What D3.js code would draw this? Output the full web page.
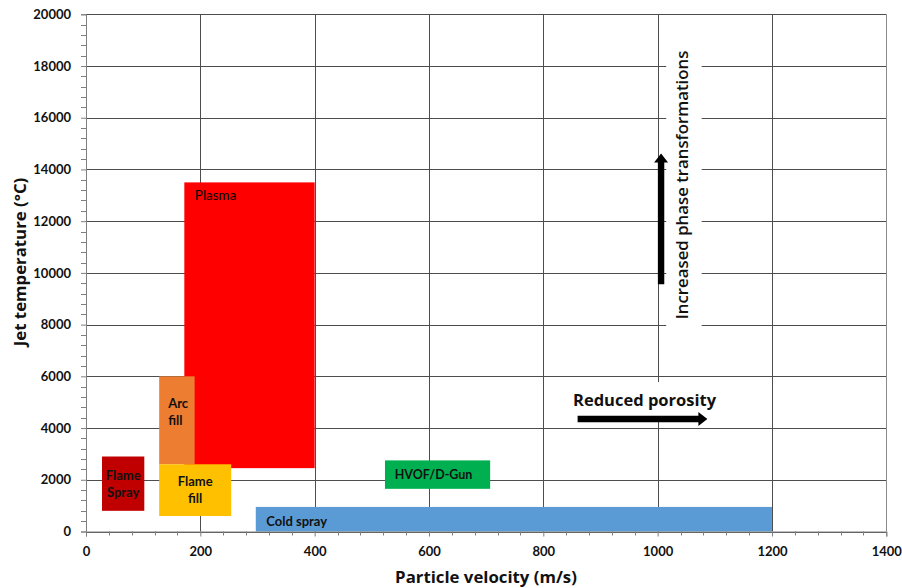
<!DOCTYPE html>
<html>
<head>
<meta charset="utf-8">
<script src="https://cdn.jsdelivr.net/npm/d3@7"></script>
<style>
  html, body { margin: 0; padding: 0; background: #fff; }
  svg { display: block; font-family: Lato, "Open Sans", sans-serif; }
</style>
</head>
<body>
<svg id="chart" width="902" height="588"></svg>
<script>
// ---- data ----
const processes = ["Plasma", "Arc fill", "Flame fill", "Flame Spray", "HVOF/D-Gun", "Cold spray"];
const labelLines = [["Plasma"], ["Arc", "fill"], ["Flame", "fill"], ["Flame", "Spray"], ["HVOF/D-Gun"], ["Cold spray"]];
const velocityMin = [172, 128, 128, 28, 523, 297];
const velocityMax = [400, 190, 254, 102, 707, 1200];
const tempMin = [2450, 2600, 600, 800, 1650, 0];
const tempMax = [13500, 6000, 2600, 2900, 2750, 950];
const xTicks = [0, 200, 400, 600, 800, 1000, 1200, 1400];
const yTicks = [0, 2000, 4000, 6000, 8000, 10000, 12000, 14000, 16000, 18000, 20000];
const xTitle = "Particle velocity (m/s)";
const yTitle = "Jet temperature (°C)";
const porosityText = "Reduced porosity";
const phaseText = "Increased phase transformations";

// ---- styles / layout ----
const colors = ["#FF0000", "#ED7D31", "#FFC000", "#C00000", "#00B050", "#5B9BD5"];
const labelMode = ["topleft", "topleft2", "center", "center", "center", "topleft"];
const titleFont = "'Open Sans', Lato, sans-serif";

const svg = d3.select("#chart");
const x = d3.scaleLinear().domain([0, 1400]).range([86, 886.3]);
const y = d3.scaleLinear().domain([0, 20000]).range([531.5, 14.3]);

// gridlines
const grid = svg.append("g");
grid.selectAll("line.h").data(yTicks).join("line")
  .attr("x1", x(0)).attr("x2", x(1400))
  .attr("y1", d => Math.round(y(d)) + 0.5).attr("y2", d => Math.round(y(d)) + 0.5)
  .attr("stroke", "#4d4d4d").attr("stroke-width", 1);
grid.selectAll("line.v").data(xTicks).join("line")
  .attr("y1", y(0)).attr("y2", y(20000))
  .attr("x1", d => Math.round(x(d)) + 0.5).attr("x2", d => Math.round(x(d)) + 0.5)
  .attr("stroke", d => d === 1400 ? "#8a8a8a" : "#4d4d4d").attr("stroke-width", 1);

// annotation backgrounds (white boxes)
svg.append("rect")
  .attr("x", x(835)).attr("y", y(5780))
  .attr("width", x(1172) - x(835)).attr("height", y(4430) - y(5780))
  .attr("fill", "#fff");
svg.append("rect")
  .attr("x", x(1015)).attr("y", y(19620))
  .attr("width", x(1077) - x(1015)).attr("height", y(7830) - y(19620))
  .attr("fill", "#fff");

// rectangles
const idx = d3.range(processes.length);
svg.append("g").selectAll("rect").data(idx).join("rect")
  .attr("x", i => x(velocityMin[i]))
  .attr("y", i => y(tempMax[i]))
  .attr("width", i => x(velocityMax[i]) - x(velocityMin[i]))
  .attr("height", i => y(tempMin[i]) - y(tempMax[i]))
  .attr("fill", i => colors[i]);

// labels
const lg = svg.append("g").attr("fill", "#111");
idx.forEach(i => {
  const x0 = x(velocityMin[i]), x1 = x(velocityMax[i]);
  const y0 = y(tempMax[i]), y1 = y(tempMin[i]);
  const lines = labelLines[i];
  const lh = 17;
  let tx, ty, anchor;
  const mode = labelMode[i];
  if (mode === "topleft") {
    tx = x0 + 10.5; ty = y0 + (i === 0 ? 17.5 : 19); anchor = "start";
  } else if (mode === "topleft2") {
    tx = x0 + 9; ty = y0 + 32; anchor = "start";
  } else {
    tx = (x0 + x1) / 2 + (i === 4 ? -4 : 0);
    ty = (y0 + y1) / 2 - (lines.length - 1) * lh / 2 + 4.5;
    anchor = "middle";
  }
  lines.forEach((t, k) => {
    lg.append("text").attr("x", tx).attr("y", ty + k * lh)
      .attr("text-anchor", anchor)
      .attr("font-size", i === 0 ? 13.5 : (i === 4 ? 12.5 : 13))
      .attr("font-weight", i === 0 ? "normal" : "bold")
      .attr("fill", i === 0 ? "#000" : "#111")
      .text(t);
  });
});

// axes
const axisColor = "#7f7f7f";
const yAxis = svg.append("g").attr("transform", `translate(${x(0)},0)`)
  .call(d3.axisLeft(y).tickValues(yTicks).tickSize(5).tickPadding(10).tickFormat(d3.format("d")));
const xAxis = svg.append("g").attr("transform", `translate(0,${y(0)})`)
  .call(d3.axisBottom(x).tickValues(xTicks).tickSize(5).tickPadding(10).tickFormat(d3.format("d")));
[yAxis, xAxis].forEach(g => {
  g.select(".domain").attr("stroke", axisColor);
  g.selectAll(".tick line").attr("stroke", axisColor);
  g.selectAll("text").attr("font-size", 13).attr("fill", "#111").attr("font-family", "Lato, sans-serif").attr("font-weight", "bold");
});
// minor ticks
const yMinor = d3.range(0, 20001, 400).filter(v => v % 2000 !== 0);
const xMinor = d3.range(0, 1401, 40).filter(v => v % 200 !== 0);
svg.append("g").selectAll("line").data(yMinor).join("line")
  .attr("x1", x(0) - 5).attr("x2", x(0))
  .attr("y1", d => Math.round(y(d)) + 0.5).attr("y2", d => Math.round(y(d)) + 0.5)
  .attr("stroke", axisColor);
svg.append("g").selectAll("line").data(xMinor).join("line")
  .attr("y1", y(0)).attr("y2", y(0) + 4)
  .attr("x1", d => Math.round(x(d)) + 0.5).attr("x2", d => Math.round(x(d)) + 0.5)
  .attr("stroke", axisColor);

// axis titles
svg.append("text").attr("x", 486).attr("y", 583).attr("text-anchor", "middle")
  .attr("font-family", titleFont)
  .attr("font-size", 16.8).attr("font-weight", "bold").attr("fill", "#111").text(xTitle);
svg.append("text").attr("transform", "translate(26,262) rotate(-90)").attr("text-anchor", "middle")
  .attr("font-family", titleFont)
  .attr("font-size", 16.8).attr("font-weight", "bold").attr("fill", "#111").text(yTitle);

// annotations
svg.append("text").attr("x", x(852)).attr("y", y(4860))
  .attr("font-family", titleFont)
  .attr("font-size", 16.5).attr("font-weight", "bold").attr("fill", "#111").text(porosityText);
svg.append("text").attr("transform", `translate(${x(1053)},${y(13400)}) rotate(-90)`)
  .attr("text-anchor", "middle")
  .attr("font-family", titleFont)
  .attr("font-size", 16.8).attr("font-weight", "600").attr("fill", "#111").text(phaseText);

// arrows
function arrow(xa, ya, xb, yb) {
  const p0 = [x(xa), y(ya)], p1 = [x(xb), y(yb)];
  const dx = p1[0] - p0[0], dy = p1[1] - p0[1];
  const L = Math.hypot(dx, dy), ux = dx / L, uy = dy / L, nx = -uy, ny = ux;
  const hw = 3.2, hh = 7, hl = 9;
  const b = [p1[0] - ux * hl, p1[1] - uy * hl];
  const pts = [
    [p0[0] + nx * hw, p0[1] + ny * hw], [b[0] + nx * hw, b[1] + ny * hw],
    [b[0] + nx * hh, b[1] + ny * hh], p1,
    [b[0] - nx * hh, b[1] - ny * hh], [b[0] - nx * hw, b[1] - ny * hw],
    [p0[0] - nx * hw, p0[1] - ny * hw]
  ];
  svg.append("path").attr("d", d3.line()(pts) + "Z").attr("fill", "#000");
}
arrow(860, 4350, 1087, 4350);
arrow(1006, 9560, 1006, 14620);
</script>
</body>
</html>
